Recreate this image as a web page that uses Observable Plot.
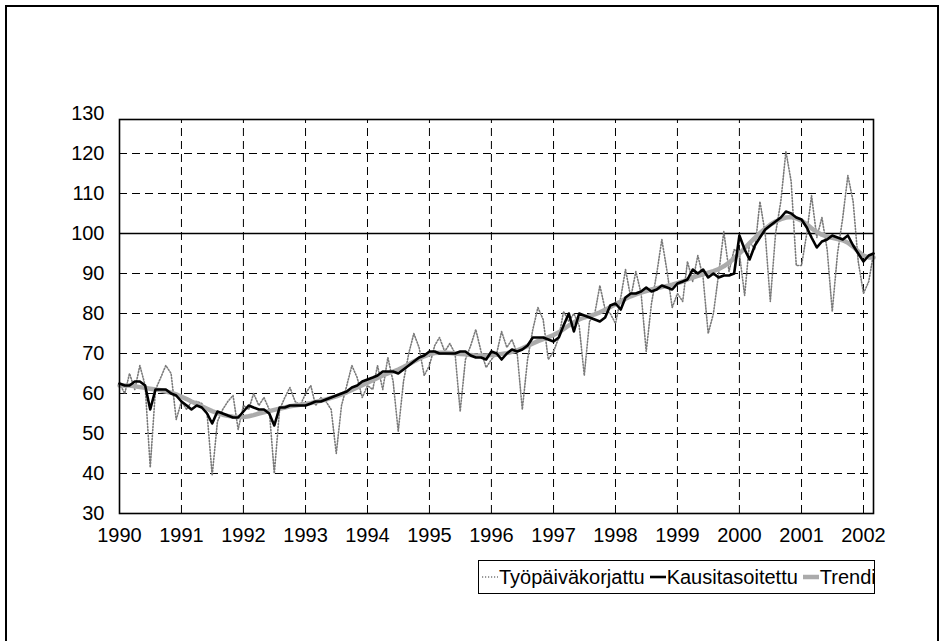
<!DOCTYPE html>
<html><head><meta charset="utf-8">
<script src="https://cdn.jsdelivr.net/npm/d3@7"></script>
<script src="https://cdn.jsdelivr.net/npm/@observablehq/plot@0.6"></script>
<style>
body{margin:0;background:#fff;width:942px;height:641px;overflow:hidden;position:relative;font-family:"Liberation Sans",Arial,sans-serif;}
#frame{position:absolute;left:5px;top:5px;width:934px;height:660px;border:2px solid #000;box-sizing:border-box;}
#chart{position:absolute;left:0;top:0;}
#legend{position:absolute;left:478px;top:560px;width:397px;height:34px;border:1.5px solid #000;box-sizing:border-box;display:flex;align-items:center;font-size:20px;color:#000;white-space:nowrap;padding-left:3px;background:#fff;}
#legend svg{margin-right:1px;}
#legend .it{display:flex;align-items:center;margin-right:5px;}
</style>
</head><body>
<div id="frame"></div>
<div id="chart"></div>
<div id="legend"></div>
<script>
// Series names
const seriesNames = ["Työpäiväkorjattu", "Kausitasoitettu", "Trendi"];
// Tick labels
const yTicks = [30, 40, 50, 60, 70, 80, 90, 100, 110, 120, 130];
const xTickYears = [1990,1991,1992,1993,1994,1995,1996,1997,1998,1999,2000,2001,2002];
// Monthly values Jan 1990 .. Mar 2002
const tyopaiva = [
 62.5,60,65,61,67,62,41.5,61,64,67,65,53.5,
 58,56,58,58,57.5,55,39.5,53,56,58,59.5,51,
 57,56,60,57,59,56,40,56,59,61.5,58,57,
 60,62,57,59,58,56,45,57,62,67,64,59,
 62,61,67,61,69,63,50.5,63,70,75,71.5,64.5,
 67,72,74,70.5,72.5,70,55.5,68.5,72,76,70.5,66.5,
 68.5,70,75.5,71.5,73.5,70,56,68.5,76,81.5,78.5,68.5,
 70.5,74,80.5,78,80,77,64.5,78,80,87,81,80,
 77.5,84,91,84,90.5,85,70.5,82.5,90,98.5,90.5,81.5,
 85,83,93,88,94.5,89,75,80,90,100.5,90.5,96,
 95,84.5,98,96,108,100,83,100,108,120.5,113,92,
 92,100,109.5,99,104,96,80.5,95,104,114.5,108,93,
 85,88,95
];
const kausi = [
 62.5,62,62,63,63,62,56,61,61,61,60,59.5,
 58,57,56,57,56.5,55,52.5,55.5,55,54.5,54,54,
 55.5,57,56.5,56,56,55,52,56.5,56.5,57,57,57,
 57,57.5,58,58,58.5,59,59.5,60,60.5,61.5,62,63,
 63.5,64,64.5,65.5,65.5,65.5,65,66,67,68,69,69.5,
 70.5,70.5,70,70,70,70,70.5,70.5,69.5,69,69,68.5,
 70.5,70,68.5,70,71,70.5,71,72,74,74,74,73.5,
 73,74,77,80,75.5,80,79.5,79,78.5,78,79,82,
 82.5,81,84,85,85,85.5,86.5,85.5,86,87,86.5,86,
 87.5,88,88.5,91,90,91,89,90,89,89.5,89.5,90,
 99.5,96,93.5,97,99,101,102,103,104,105.5,105,104,
 103.5,101.5,99,96.5,98,98.5,99.5,99,98.5,99.5,97,95,
 93,94.5,95
];
const trendi = [
 62,62,62,61.8,61.6,61.4,61.2,61,60.8,60.5,60.2,59.8,
 59.2,58.6,58,57.4,56.8,56.2,55.6,55.1,54.7,54.4,54.2,54.1,
 54.1,54.3,54.6,55,55.3,55.6,55.9,56.2,56.5,56.8,57,57.2,
 57.4,57.6,57.9,58.2,58.5,58.9,59.3,59.8,60.3,60.9,61.5,62.1,
 62.7,63.3,63.9,64.5,65,65.5,66,66.6,67.3,68,68.7,69.3,
 69.8,70.1,70.2,70.2,70.1,70,69.9,69.8,69.6,69.5,69.5,69.5,
 69.6,69.7,69.9,70.1,70.4,70.8,71.3,71.9,72.5,73.1,73.6,74.1,
 74.6,75.3,76.1,77,77.8,78.5,79,79.4,79.8,80.3,80.9,81.6,
 82.3,83,83.7,84.3,84.8,85.2,85.6,86,86.3,86.6,86.9,87.2,
 87.6,88,88.5,89,89.4,89.8,90.2,90.6,91.1,91.8,92.7,93.8,
 95,96.3,97.6,98.9,100.1,101.2,102.2,103,103.6,104,104.1,103.8,
 103.2,102.3,101.3,100.4,99.7,99.2,98.9,98.6,98.3,97.7,96.7,95.5,
 94.5,94,94
];

const months = d3.utcMonth.range(new Date(Date.UTC(1990,0,1)), new Date(Date.UTC(2002,3,1)));
const data = months.map((d,i) => ({date: d, tyo: tyopaiva[i], kaus: kausi[i], trend: trendi[i]}));
const xTicks = xTickYears.map(y => new Date(Date.UTC(y,0,1)));

const chart = Plot.plot({
  width: 942, height: 641,
  marginLeft: 119, marginRight: 69, marginTop: 113, marginBottom: 128,
  style: {fontFamily: "Liberation Sans, Arial, sans-serif", fontSize: "20px", color: "#000", background: "transparent", overflow: "visible"},
  x: {type: "utc", domain: [months[0], months[months.length-1]], ticks: xTicks, tickFormat: d3.utcFormat("%Y"), tickSize: 0, tickPadding: 14, label: null},
  y: {domain: [30, 130], ticks: yTicks, tickSize: 0, tickPadding: 15, label: null},
  marks: [
    Plot.ruleY(yTicks.filter(v => v > 30 && v < 130), {stroke: "#000", strokeWidth: 1, strokeDasharray: "8,5"}),
    Plot.ruleX(xTicks.slice(1), {y1: 30, y2: 128.5, stroke: "#000", strokeWidth: 1, strokeDasharray: "8,5"}),
    Plot.ruleY([100], {stroke: "#000", strokeWidth: 1.6}),
    Plot.line(data, {x: "date", y: "tyo", stroke: "#7a7a7a", strokeWidth: 1.6, strokeDasharray: "1.2,1.8"}),
    Plot.line(data, {x: "date", y: "trend", stroke: "#ababab", strokeWidth: 4.5}),
    Plot.line(data, {x: "date", y: "kaus", stroke: "#000", strokeWidth: 2.6}),
    Plot.frame({stroke: "#000", strokeWidth: 1.6, insetTop: 6})
  ]
});
document.getElementById("chart").appendChild(chart);

// Legend
const sw = [
  `<svg width="16" height="10"><line x1="0" y1="5" x2="16" y2="5" stroke="#7a7a7a" stroke-width="1.6" stroke-dasharray="1.2,1.8"/></svg>`,
  `<svg width="16" height="10"><line x1="0" y1="5" x2="16" y2="5" stroke="#000" stroke-width="2.6"/></svg>`,
  `<svg width="16" height="10"><line x1="0" y1="5" x2="16" y2="5" stroke="#ababab" stroke-width="4.5"/></svg>`
];
document.getElementById("legend").innerHTML = seriesNames.map((n,i) => `<span class="it">${sw[i]}<span>${n}</span></span>`).join("");
</script>
</body></html>
